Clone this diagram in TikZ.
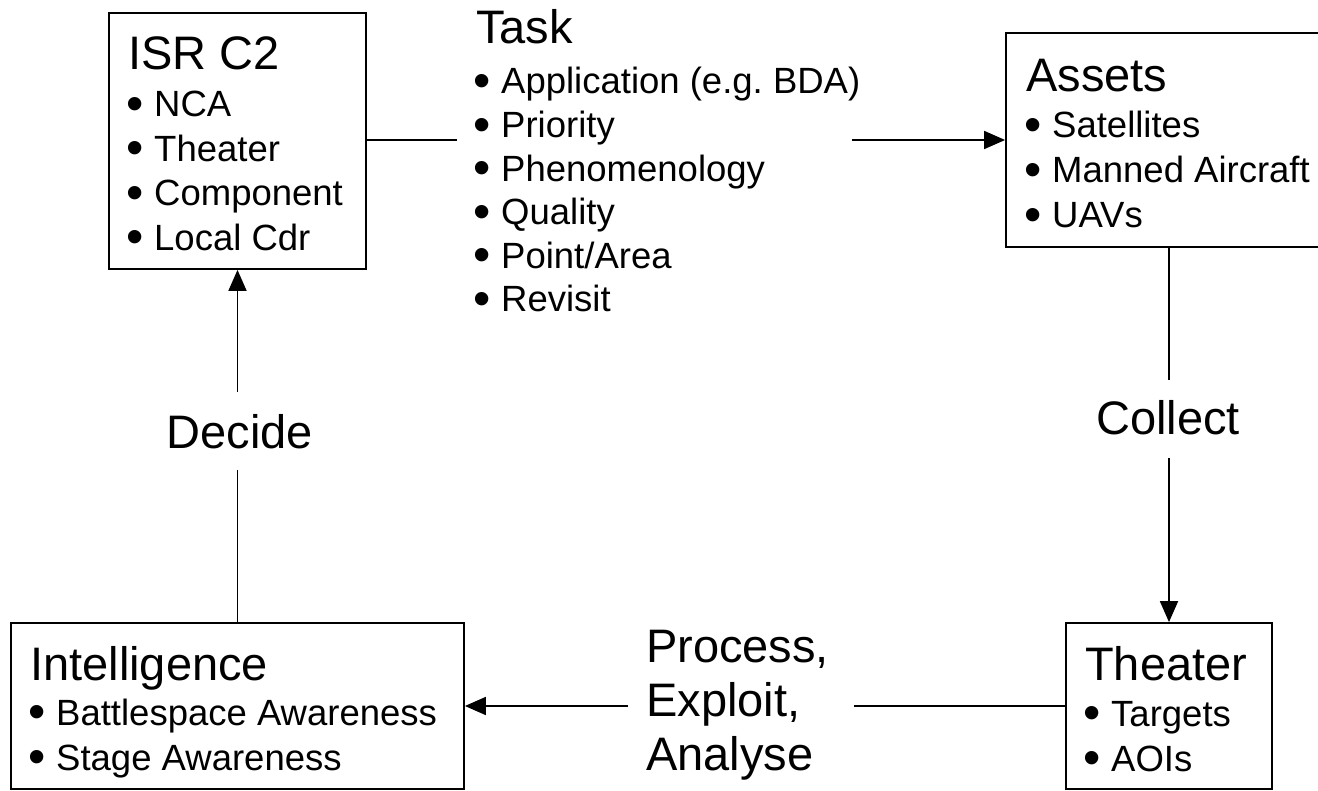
\documentclass[tikz,border=0pt]{standalone}
\usepackage{fontspec}
\setmainfont{Liberation Sans}
\usetikzlibrary{arrows.meta}
\frenchspacing
\newcommand\bulitem[1]{\makebox[26pt][l]{\hspace{-1.5pt}\raisebox{-3.5pt}{\scalebox{1.35}{•}}}#1}
\begin{document}
\begin{tikzpicture}[x=1pt,y=-1pt,
  box/.style={draw, line width=1.8pt, inner sep=0pt},
  hd/.style={anchor=base west, inner sep=0pt, font=\fontsize{47}{47}\selectfont},
  bl/.style={anchor=base west, inner sep=0pt, font=\fontsize{36.5}{36.5}\selectfont},
  lbl/.style={inner sep=0pt, font=\fontsize{47}{47}\selectfont},
  conn/.style={line width=1.8pt},
  arr/.style={conn, -{Triangle[length=21pt,width=18pt]}}]
\useasboundingbox (0,0) rectangle (1318,791);

% boxes
\node[box, minimum width=257pt, minimum height=256pt] (isr) at (237.5,141) {};
\node[box, minimum width=314pt, minimum height=214pt] (assets) at (1163,140) {};
\node[box, minimum width=453pt, minimum height=166pt] (intel) at (237.5,706) {};
\node[box, minimum width=206pt, minimum height=166pt] (theater) at (1169,706) {};

% ISR C2
\node[hd] (isrh) at (128,70) {ISR C2};
\foreach \t [count=\i from 0] in {NCA, Theater, Component, Local Cdr}
  \node[bl] (isr\i) at (128,{117+44.5*\i}) {\bulitem{\t}};

% Task
\node[hd] (taskh) at (476,44) {Task};
\foreach \t [count=\i from 0] in {{Application (e.g. BDA)}, Priority, Phenomenology, Quality, Point/Area, Revisit}
  \node[bl] (task\i) at (475,{94+43.6*\i}) {\bulitem{\t}};

% Assets
\node[hd] (assetsh) at (1026,92) {Assets};
\foreach \t [count=\i from 0] in {Satellites, Manned Aircraft, UAVs}
  \node[bl] (assets\i) at (1026,{138+45*\i}) {\bulitem{\t}};

% Intelligence
\node[hd] (intelh) at (30,680) {Intelligence};
\foreach \t [count=\i from 0] in {Battlespace Awareness, Stage Awareness}
  \node[bl] (intel\i) at (30,{725+45*\i}) {\bulitem{\t}};

% Theater
\node[hd] (theaterh) at (1085,680) {Theater};
\foreach \t [count=\i from 0] in {Targets, AOIs}
  \node[bl] (theater\i) at (1085,{726+45*\i}) {\bulitem{\t}};

% connector labels
\node[lbl, anchor=base] (decide) at (240,449) {Decide};
\node[lbl, anchor=base] (collect) at (1168,435) {Collect};
\node[lbl, anchor=base west] (proc1) at (646,662) {Process,};
\node[lbl, anchor=base west] (proc2) at (646,716) {Exploit,};
\node[lbl, anchor=base west] (proc3) at (646,770) {Analyse};

% free ends of the broken connectors
\coordinate (t1) at (457,140);
\coordinate (t2) at (852,140);
\coordinate (c1) at (1169,380);
\coordinate (c2) at (1169,458);
\coordinate (p1) at (854,706);
\coordinate (p2) at (628,706);
\coordinate (d1) at (237.5,470);
\coordinate (d2) at (237.5,392);

% connectors
\draw[conn] (isr.east |- t1) -- (t1);
\draw[arr] (t2) -- (assets.west);
\draw[conn] (assets.south -| c1) -- (c1);
\draw[arr] (c2) -- (theater.north);
\draw[conn] (theater.west) -- (p1);
\draw[arr] (p2) -- (intel.east);
\draw[conn] (intel.north) -- (d1);
\draw[arr] (d2) -- (isr.south);
\end{tikzpicture}
\end{document}
